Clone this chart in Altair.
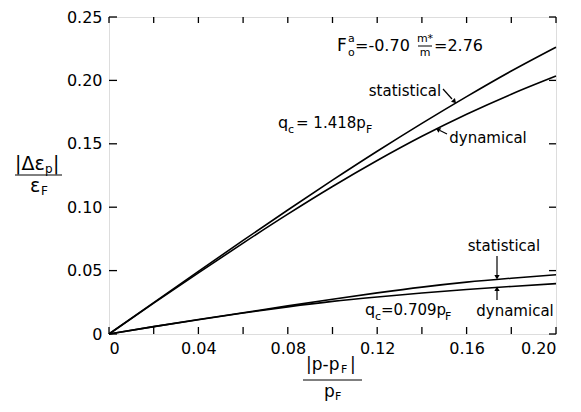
import altair as alt
import pandas as pd

# ---- data ----
p_rel = [0.0, 0.02, 0.04, 0.06, 0.08, 0.10, 0.12, 0.14, 0.16, 0.18, 0.20]
upper_statistical = [0, 0.0248, 0.0494, 0.0738, 0.0978, 0.1213, 0.1441, 0.1661, 0.1872, 0.2074, 0.2262]
upper_dynamical = [0, 0.0243, 0.0482, 0.0717, 0.0945, 0.1163, 0.1368, 0.1559, 0.1733, 0.1891, 0.2034]
lower_statistical = [0, 0.0058, 0.0114, 0.0168, 0.0222, 0.0274, 0.0324, 0.0370, 0.0409, 0.0440, 0.0467]
lower_dynamical = [0, 0.0058, 0.0113, 0.0165, 0.0214, 0.0257, 0.0292, 0.0323, 0.0351, 0.0375, 0.0397]

x_ticks = [0.0, 0.02, 0.04, 0.06, 0.08, 0.10, 0.12, 0.14, 0.16, 0.18, 0.20]
x_labels = [0.0, 0.04, 0.08, 0.12, 0.16, 0.20]
y_ticks = [0.0, 0.05, 0.10, 0.15, 0.20, 0.25]

W, H = 447, 317
OX, OY = 109, 17  # page position of plot origin
FONT = "DejaVu Sans"

rows = []
for name, vals in [("us", upper_statistical), ("ud", upper_dynamical),
                   ("ls", lower_statistical), ("ld", lower_dynamical)]:
    for xv, yv in zip(p_rel, vals):
        rows.append({"x": xv, "y": yv, "series": name})
df = pd.DataFrame(rows)

xs = alt.Scale(domain=[0, 0.2], nice=False, zero=False)
ys = alt.Scale(domain=[0, 0.25], nice=False, zero=False)

label_expr = "datum.value == 0 ? '0' : format(datum.value, '.2f')"
x_axis = alt.Axis(values=x_labels, labelExpr=label_expr, title=None,
                  ticks=False, tickSize=0, domain=False, grid=False,
                  labelPadding=6, labelFontSize=16, labelFont=FONT, labelColor="black")
y_axis = alt.Axis(values=y_ticks, labelExpr=label_expr, title=None,
                  ticks=False, tickSize=0, domain=False, grid=False,
                  labelPadding=7, labelFontSize=16, labelFont=FONT, labelColor="black")

lines = alt.Chart(df).mark_line(color="black", strokeWidth=1.6, interpolate="monotone").encode(
    x=alt.X("x:Q", scale=xs, axis=x_axis),
    y=alt.Y("y:Q", scale=ys, axis=y_axis),
    detail="series:N",
)

xt = pd.DataFrame({"t": x_ticks})
yt = pd.DataFrame({"t": y_ticks})
tick_style = dict(color="black", strokeWidth=1.3)
bottom_ticks = alt.Chart(xt).mark_rule(**tick_style).encode(
    x=alt.X("t:Q", scale=xs, axis=x_axis), y=alt.value(H), y2=alt.value(H - 7))
top_ticks = alt.Chart(xt).mark_rule(**tick_style).encode(
    x=alt.X("t:Q", scale=xs, axis=x_axis), y=alt.value(0), y2=alt.value(6))
left_ticks = alt.Chart(yt).mark_rule(**tick_style).encode(
    y=alt.Y("t:Q", scale=ys, axis=y_axis), x=alt.value(0), x2=alt.value(8))
right_ticks = alt.Chart(yt).mark_rule(**tick_style).encode(
    y=alt.Y("t:Q", scale=ys, axis=y_axis), x=alt.value(W), x2=alt.value(W - 7))

one = alt.Data(values=[{}])


def txt(s, px, py, size=16, align="left"):
    return alt.Chart(one).mark_text(text=s, font=FONT, fontSize=size, align=align,
                                    baseline="middle", color="black").encode(
        x=alt.value(px - OX), y=alt.value(py - OY))


def seg(px1, py1, px2, py2, w=1.2):
    return alt.Chart(one).mark_rule(color="black", strokeWidth=w).encode(
        x=alt.value(px1 - OX), y=alt.value(py1 - OY),
        x2=alt.value(px2 - OX), y2=alt.value(py2 - OY))


def head(px, py, angle):
    return alt.Chart(one).mark_point(shape="triangle", filled=True, color="black",
                                     size=28, angle=angle, opacity=1).encode(
        x=alt.value(px - OX), y=alt.value(py - OY))


layers = [lines, bottom_ticks, top_ticks, left_ticks, right_ticks]

# parameter annotation
layers += [
    txt("F", 337, 46, 17), txt("a", 348, 39, 11), txt("o", 348, 53, 11),
    txt("=-0.70", 355, 46),
    txt("m*", 425, 39, 11, "center"), seg(418, 46, 432, 46, 1.0), txt("m", 425, 53, 11, "center"),
    txt("=2.76", 434, 46),
]
# upper curves
layers += [
    txt("statistical", 405, 91, 15, "center"),
    seg(443, 89, 452, 99), head(454, 101, 138),
    txt("dynamical", 488, 138, 15, "center"),
    seg(447, 134, 440, 130.5), head(438.5, 129.7, 300),
    txt("q", 278, 123, 16), txt("c", 288, 130, 11), txt("= 1.418p", 296, 123, 15),
    txt("F", 366, 130, 11),
]
# lower curves
layers += [
    txt("statistical", 504, 246, 15, "center"),
    seg(497, 256, 497, 275), head(497, 276.5, 180),
    txt("dynamical", 515, 311, 15, "center"),
    seg(497, 300, 497, 290), head(497, 289.5, 0),
    txt("q", 365, 310, 16), txt("c", 375, 317, 11), txt("=0.709p", 381, 310, 15),
    txt("F", 445, 317, 11),
]
# y-axis title (fraction)
layers += [
    txt("|Δε", 15, 164, 19), txt("p", 45, 169, 12), txt("|", 53, 164, 19),
    seg(15, 175, 62, 175, 1.0),
    txt("ε", 30, 186, 19), txt("F", 41, 191, 12),
]
# x-axis title (fraction)
layers += [
    txt("|p-p", 306, 365, 17), txt("F", 341, 370, 11), txt("|", 350, 365, 17),
    seg(303, 380, 362, 380, 1.0),
    txt("p", 324, 392, 17), txt("F", 335, 397, 11),
]

chart = alt.layer(*layers).properties(
    width=W, height=H,
    autosize=alt.AutoSizeParams(type="none"),
    padding={"left": 101, "top": 9, "right": 16, "bottom": 70},
).configure_view(stroke="black", strokeWidth=1.6).configure(background="white")

chart.save("out.html", embed_options={"renderer": "svg", "actions": False})
